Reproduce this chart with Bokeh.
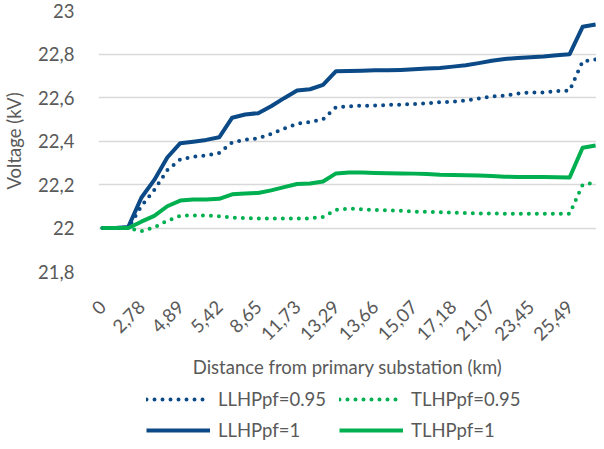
import math
from bokeh.plotting import figure
from bokeh.layouts import column
from bokeh.models import (Range1d, FixedTicker, CustomJSTickFormatter, Legend, LegendItem)
from bokeh.embed import file_html
from bokeh.resources import INLINE

# ---- data -------------------------------------------------------------
tick_labels = ["0", "2,78", "4,89", "5,42", "8,65", "11,73", "13,29",
               "13,66", "15,07", "17,18", "21,07", "23,45", "25,49"]

ll_095 = [22.0, 22.0, 22.0, 22.10, 22.175, 22.266, 22.315, 22.328, 22.333, 22.345,
          22.394, 22.406, 22.412, 22.432, 22.457, 22.479, 22.488, 22.50, 22.555, 22.56,
          22.562, 22.563, 22.566, 22.567, 22.57, 22.573, 22.578, 22.581, 22.586, 22.595,
          22.605, 22.609, 22.618, 22.623, 22.623, 22.629, 22.632, 22.766, 22.775]

tl_095 = [22.0, 22.0, 22.0, 21.985, 22.003, 22.033, 22.056, 22.058, 22.057, 22.054,
          22.048, 22.045, 22.044, 22.044, 22.044, 22.044, 22.044, 22.051, 22.083, 22.089,
          22.086, 22.083, 22.081, 22.079, 22.075, 22.074, 22.072, 22.071, 22.069, 22.067,
          22.067, 22.066, 22.066, 22.065, 22.065, 22.065, 22.065, 22.199, 22.209]

ll_1 = [22.0, 22.0, 22.005, 22.139, 22.221, 22.324, 22.39, 22.397, 22.405, 22.417,
        22.507, 22.522, 22.528, 22.56, 22.597, 22.632, 22.638, 22.658, 22.721, 22.722,
        22.723, 22.725, 22.725, 22.727, 22.73, 22.733, 22.736, 22.742, 22.748, 22.758,
        22.769, 22.777, 22.782, 22.785, 22.788, 22.794, 22.799, 22.925, 22.936]

tl_1 = [22.0, 22.0, 22.0, 22.029, 22.056, 22.10, 22.126, 22.131, 22.131, 22.134,
        22.155, 22.159, 22.161, 22.173, 22.188, 22.202, 22.205, 22.214, 22.251, 22.255,
        22.255, 22.253, 22.252, 22.251, 22.25, 22.248, 22.245, 22.244, 22.242, 22.241,
        22.239, 22.236, 22.235, 22.235, 22.234, 22.233, 22.232, 22.369, 22.379]

series_names = ["LLHPpf=0.95", "TLHPpf=0.95", "LLHPpf=1", "TLHPpf=1"]

x = list(range(len(ll_1)))
tick_idx = list(range(0, len(x), 3))

# ---- style ------------------------------------------------------------
BLUE = "#0B4A86"
GREEN = "#00B050"
TXT = "#595959"
FONT = "Lato"
FS = "18.5px"
DOT = dict(line_width=4, line_dash="0 8", line_cap="round")
SOLID = dict(line_width=4, line_join="round")

p = figure(width=596, height=380, output_backend="svg", toolbar_location=None,
           x_range=Range1d(-0.3, 38.07), y_range=Range1d(21.8, 23.0),
           min_border_left=88, min_border_right=0, min_border_top=10,
           min_border_bottom=105)
p.outline_line_color = None

p.line(x, ll_095, line_color=BLUE, **DOT)
p.line(x, tl_095, line_color=GREEN, **DOT)
p.line(x, ll_1, line_color=BLUE, **SOLID)
p.line(x, tl_1, line_color=GREEN, **SOLID)

p.xgrid.visible = False
p.ygrid.grid_line_color = "#D9D9D9"
p.ygrid.grid_line_width = 1.5
p.yaxis.ticker = FixedTicker(ticks=[21.8, 22.0, 22.2, 22.4, 22.6, 22.8, 23.0])
p.yaxis.formatter = CustomJSTickFormatter(
    code="return (Math.round(tick*10)/10).toString().replace('.', ',');")
p.xaxis.ticker = FixedTicker(ticks=tick_idx)
p.xaxis.major_label_overrides = {i: lab for i, lab in zip(tick_idx, tick_labels)}
p.xaxis.major_label_orientation = math.pi / 4

for ax in (p.xaxis[0], p.yaxis[0]):
    ax.axis_line_color = None
    ax.major_tick_line_color = None
    ax.minor_tick_line_color = None
    ax.major_label_text_font = FONT
    ax.major_label_text_font_size = FS
    ax.major_label_text_color = TXT
    ax.axis_label_text_font = FONT
    ax.axis_label_text_font_size = FS
    ax.axis_label_text_font_style = "normal"
    ax.axis_label_text_color = TXT

p.yaxis.axis_label = "Voltage (kV)"
p.yaxis.major_label_standoff = 18
p.yaxis.axis_label_standoff = 10
p.xaxis.axis_label = "Distance from primary substation (km)"
p.xaxis.major_label_standoff = 26
p.xaxis.axis_label_standoff = 6

# ---- legend (separate strip below the chart) --------------------------
lg = figure(width=596, height=61, output_backend="svg", toolbar_location=None,
            x_range=Range1d(0, 1), y_range=Range1d(0, 1),
            x_axis_location=None, y_axis_location=None,
            min_border=0, min_border_left=0, min_border_right=0,
            min_border_top=0, min_border_bottom=0)
lg.grid.visible = False
lg.outline_line_color = None

# legend proxies, placed outside the visible range
proxy_x = [2, 3]
proxy_y = [2, 2]
g1 = lg.line(proxy_x, proxy_y, line_color=BLUE, **DOT)
g2 = lg.line(proxy_x, proxy_y, line_color=GREEN, **DOT)
g3 = lg.line(proxy_x, proxy_y, line_color=BLUE, **SOLID)
g4 = lg.line(proxy_x, proxy_y, line_color=GREEN, **SOLID)

def make_legend(items, loc):
    return Legend(items=items, orientation="vertical", location=loc,
                  label_text_font=FONT, label_text_font_size=FS,
                  label_text_color=TXT, glyph_width=64, glyph_height=20,
                  label_standoff=8, label_height=20, spacing=9, padding=0,
                  margin=0, border_line_color=None, background_fill_alpha=0)

lg.add_layout(make_legend([LegendItem(label=series_names[0], renderers=[g1]),
                           LegendItem(label=series_names[2], renderers=[g3])],
                          (48, 0)), "center")
lg.add_layout(make_legend([LegendItem(label=series_names[1], renderers=[g2]),
                           LegendItem(label=series_names[3], renderers=[g4])],
                          (241, 0)), "center")

layout = column(p, lg, spacing=0)
open("out.html", "w").write(file_html(layout, INLINE))
